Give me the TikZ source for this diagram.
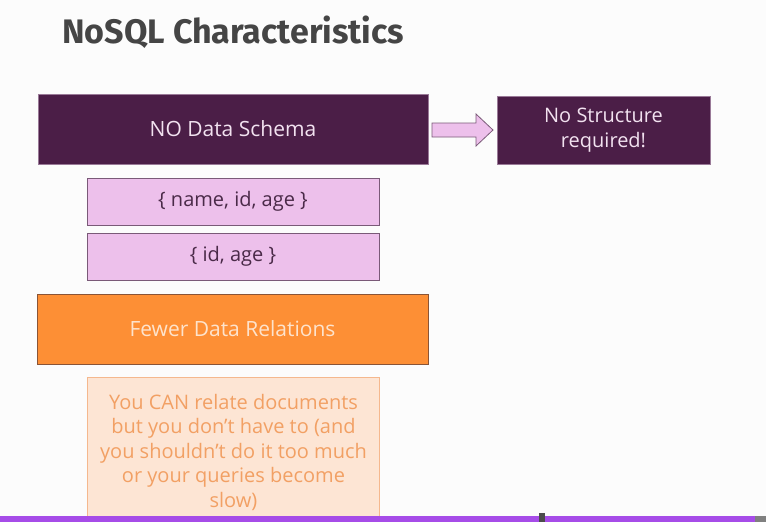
\documentclass[tikz,border=0pt]{standalone}
\usepackage{fontspec}
\setmainfont{Open Sans}
\newfontfamily\titlefont{Fira Sans}
\usepackage{xcolor}
\definecolor{plum}{HTML}{4B1E47}
\definecolor{plumedge}{HTML}{9A7A98}
\definecolor{plumtext}{HTML}{F2E2F0}
\definecolor{lilac}{HTML}{EDC0EB}
\definecolor{lilacedge}{HTML}{7A5A78}
\definecolor{lilactext}{HTML}{4A2A48}
\definecolor{tangerine}{HTML}{FD8F35}
\definecolor{tangerineedge}{HTML}{8A5436}
\definecolor{tangerinetext}{HTML}{FDE3CC}
\definecolor{peach}{HTML}{FDE5D4}
\definecolor{peachedge}{HTML}{F5B88E}
\definecolor{peachtext}{HTML}{F2A064}
\definecolor{titlegray}{HTML}{454545}
\definecolor{barpurple}{HTML}{A64CE8}

\begin{document}
\begin{tikzpicture}[x=1pt, y=-1pt,
  box/.style={draw, rectangle, inner sep=0pt, align=center, line width=0.8pt,
    font=\fontsize{20}{24.5}\selectfont},
  bigtext/.style={font=\fontsize{21}{24.5}\selectfont},
  darkbox/.style={box, fill=plum, draw=plumedge, text=plumtext},
  pinkbox/.style={box, fill=lilac, draw=lilacedge, text=lilactext},
  orangebox/.style={box, fill=tangerine, draw=tangerineedge, text=tangerinetext},
  notebox/.style={box, fill=peach, draw=peachedge, text=peachtext}]
  \fill[white!99!black] (0,0) rectangle (766,522);
  \useasboundingbox (0,0) rectangle (766,522);

  % Title
  \node[anchor=base west, inner sep=0pt, text=titlegray,
    font=\titlefont\bfseries\fontsize{34}{38}\selectfont] (title) at (62,43) {NoSQL Characteristics};

  % Boxes
  \node[darkbox, bigtext, minimum width=390pt, minimum height=70pt] (schema) at (233,129) {NO Data Schema};
  \node[darkbox, minimum width=213pt, minimum height=68pt] (structure) at (603.5,130) {No Structure\\required!};
  \node[pinkbox, minimum width=292pt, minimum height=47pt] (full) at (233,201.5) {\{ name, id, age \}};
  \node[pinkbox, minimum width=292pt, minimum height=47pt] (part) at (233,256.5) {\{ id, age \}};
  \node[orangebox, bigtext, minimum width=391pt, minimum height=70pt] (relations) at (232.5,329) {Fewer Data Relations};
  \node[notebox, minimum width=292pt, minimum height=150pt] (note) at (233.5,452) {You CAN relate documents\\but you don't have to (and\\you shouldn't do it too much\\or your queries become\\slow)};

  % Block arrow
  \draw[fill=lilac, draw=lilacedge, line width=0.8pt]
    (432,123) -- (476,123) -- (476,114) -- (493,130) -- (476,146) -- (476,137) -- (432,137) -- cycle;

  % Progress bar
  \fill[barpurple] (0,516) rectangle (755,522);
  \fill[gray] (755,516) rectangle (766,522);
  \fill[black!70] (539,513) rectangle (545,522);
\end{tikzpicture}
\end{document}
